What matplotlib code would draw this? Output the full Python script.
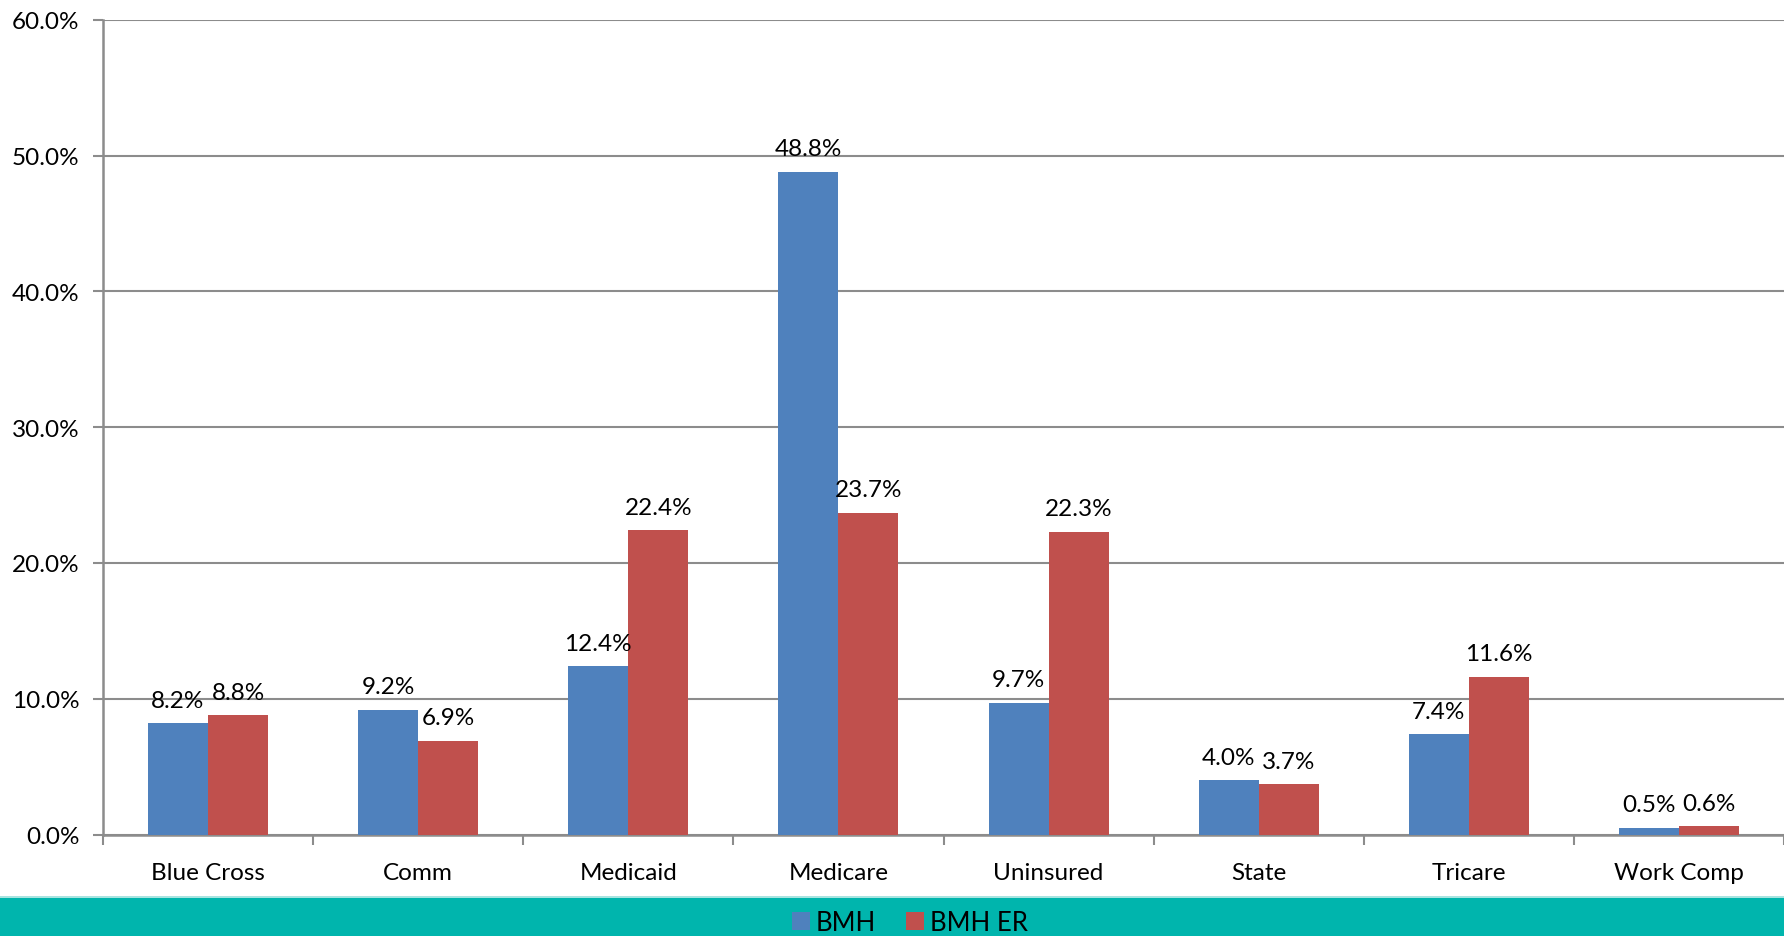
import numpy as np
import matplotlib
matplotlib.use('Agg')
import matplotlib.pyplot as plt
from matplotlib.patches import Rectangle

plt.rcParams['font.family'] = ['Lato', 'DejaVu Sans']

categories = ['Blue Cross', 'Comm', 'Medicaid', 'Medicare', 'Uninsured',
              'State', 'Tricare', 'Work Comp']
bmh = [8.2, 9.2, 12.4, 48.8, 9.7, 4.0, 7.4, 0.5]
bmh_er = [8.8, 6.9, 22.4, 23.7, 22.3, 3.7, 11.6, 0.6]
series_names = ['BMH', 'BMH ER']
yticks = [0, 10, 20, 30, 40, 50, 60]

blue = '#4F81BD'
red = '#C0504D'
grid_col = '#8C8C8C'
fs = 17.5

fig = plt.figure(figsize=(17.84, 9.37), dpi=100)
fig.patches.append(Rectangle((0, 0), 1, 0.0406, transform=fig.transFigure,
                             facecolor='#00B5AD', edgecolor='none', zorder=0))
fig.patches.append(Rectangle((0, 0.0406), 1, 0.002, transform=fig.transFigure,
                             facecolor='#A8E4E0', edgecolor='none', zorder=0))

ax = fig.add_axes([103 / 1784, 0.1083, 1 - 103 / 1784, 0.8696])
x = np.arange(len(categories))
w = 1 / 3.5
b1 = ax.bar(x - w / 2, bmh, w, color=blue, label=series_names[0], zorder=3)
b2 = ax.bar(x + w / 2, bmh_er, w, color=red, label=series_names[1], zorder=3)

for bars in (b1, b2):
    ax.bar_label(bars, labels=['%.1f%%' % v for v in bars.datavalues],
                 padding=9, fontsize=fs, color='black')

ax.set_xlim(-0.5, len(categories) - 0.5)
ax.set_ylim(0, 60)
ax.set_yticks(yticks)
ax.set_yticklabels(['%.1f%%' % t for t in yticks], fontsize=fs)
ax.set_xticks(x)
ax.set_xticklabels(categories, fontsize=fs)
ax.set_xticks(np.arange(len(categories) + 1) - 0.5, minor=True)
ax.tick_params(axis='x', which='major', length=0, pad=20)
ax.tick_params(axis='x', which='minor', length=7, color=grid_col, width=1.5)
ax.tick_params(axis='y', length=7, color=grid_col, width=1.5, pad=10)

ax.grid(axis='y', color=grid_col, linewidth=1.5, zorder=0)
for s in ['top', 'right']:
    ax.spines[s].set_visible(False)
for s in ['left', 'bottom']:
    ax.spines[s].set_color(grid_col)
    ax.spines[s].set_linewidth(1.8)

fig.legend(handles=[b1, b2], loc='center', bbox_to_anchor=(0.51, 0.014),
           ncol=2, frameon=False, fontsize=fs + 1, handlelength=0.7,
           handleheight=0.7, handletextpad=0.2, columnspacing=1.2,
           borderpad=0)

fig.savefig('out.png', dpi=100)
